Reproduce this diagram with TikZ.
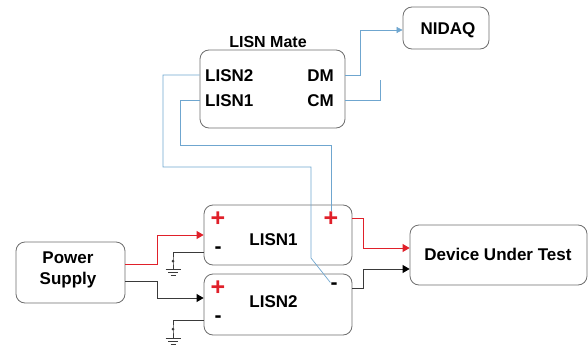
\documentclass[tikz,border=0pt]{standalone}
\usepackage{fontspec}
\setmainfont{Liberation Sans}
\usetikzlibrary{arrows.meta}
\definecolor{wireblue}{HTML}{6FA6CF}
\definecolor{wirered}{HTML}{E0202A}
\definecolor{edgegray}{HTML}{6E6E6E}
\definecolor{wiregray}{HTML}{3A3A3A}
\tikzset{
  blockbox/.style={draw=edgegray, line width=0.8pt, rounded corners=9pt, fill=white, inner sep=0pt},
  lbl/.style={font=\bfseries\fontsize{17}{19}\selectfont, inner sep=0pt},
  plusmark/.style={font=\bfseries\fontsize{25}{25}\selectfont, text=wirered, inner sep=0pt},
  minusmark/.style={font=\bfseries\fontsize{21}{21}\selectfont, inner sep=0pt},
  bluewire/.style={draw=wireblue, line width=0.7pt},
  redwire/.style={draw=wirered, line width=0.8pt},
  graywire/.style={draw=wiregray, line width=0.8pt},
  redtip/.style={-{Triangle[length=7pt,width=8pt,color=wirered,fill=wirered]}},
  blacktip/.style={-{Triangle[length=7pt,width=8pt,color=black,fill=black]}},
  bluetip/.style={-{Triangle[length=6pt,width=6pt,color=wireblue,fill=wireblue]}},
  gndwire/.style={draw=wiregray, line width=0.6pt},
}
\begin{document}
\begin{tikzpicture}[x=1pt,y=-1pt]
\useasboundingbox (0,0) rectangle (588,345);

% blocks
\node[blockbox, minimum width=145pt, minimum height=78pt] (mate) at (272.5,89) {};
\node[lbl, font=\bfseries\fontsize{16}{18}\selectfont] (matet) at (268,42) {LISN Mate};
\node[lbl, anchor=west] (m2) at (205,76) {LISN2};
\node[lbl, anchor=west] (m1) at (205,101) {LISN1};
\node[lbl, anchor=east] (mdm) at (334,76) {DM};
\node[lbl, anchor=east] (mcm) at (334,101) {CM};

\node[blockbox, minimum width=86pt, minimum height=42pt] (nidaq) at (446,28) {};
\node[lbl] (nidaqt) at (448,30) {NIDAQ};

\node[blockbox, minimum width=109pt, minimum height=61pt] (ps) at (70.5,272.5) {};
\node[lbl, align=center] (pst) at (68,270) {Power\\[2pt]Supply};

\node[blockbox, minimum width=148pt, minimum height=60pt] (l1) at (278,235) {};
\node[lbl] (l1t) at (273.5,240) {LISN1};
\node[blockbox, minimum width=148pt, minimum height=61pt] (l2) at (278,304.5) {};
\node[lbl] (l2t) at (273.5,302) {LISN2};

\node[blockbox, minimum width=177pt, minimum height=60pt] (dut) at (498.5,255) {};
\node[lbl] (dutt) at (498,254) {Device Under Test};

% polarity marks
\node[plusmark] (l1pin) at (218,219) {+};
\node[minusmark] (l1min) at (218,250) {-};
\node[plusmark] (l2pin) at (218,288) {+};
\node[minusmark] (l2min) at (218,319) {-};
\node[plusmark] (l1pout) at (331,219) {+};
\node[minusmark] (l2mout) at (334,286) {-};

% supply to LISNs
\coordinate (psr) at (157,264);
\coordinate (psru) at (157,235);
\draw[redwire, redtip]
  (ps.east |- psr) -- (psr) -- (psru) -- (l1.west |- psru);
\draw[graywire, blacktip]
  (ps.east |- 0,281) -| (157,298) -- (l2.west |- 0,298);

% LISNs to device
\draw[redwire, redtip]
  (l1.east |- 0,218) -| (363,248) -- (dut.west |- 0,248);
\draw[graywire, blacktip]
  (l2.east |- 0,288) -| (363,269) -- (dut.west |- 0,269);

% grounds of the minus inputs
\coordinate (g1) at (173,261);
\coordinate (g2) at (173,329);
\draw[gndwire] (l1.west |- 0,252) -| (g1) -- (173,269);
\draw[gndwire] (l2.west |- 0,320) -| (g2) -- (173,338);
\fill[wiregray] (g1) circle (1.5pt);
\fill[wiregray] (g2) circle (1.5pt);
\foreach \gy in {269,338}{
  \draw[gndwire] (165.5,\gy) -- (180.5,\gy);
  \draw[gndwire] (168,\gy+3) -- (178,\gy+3);
  \draw[gndwire] (170.5,\gy+6) -- (175.5,\gy+6);
}

% LISN Mate sense lines
\draw[bluewire] (mate.west |- 0,75) -| (163,167) -| (311,258) -- (l2mout.north west);
\draw[bluewire] (mate.west |- 0,100) -| (180,145) -| (l1pout.north);
\draw[bluewire, bluetip]
  (mate.east |- 0,75) -| (360,30) -- (nidaq.west |- 0,30);
\coordinate (cmend) at (380,80);
\draw[bluewire] (mate.east |- 0,100) -| (cmend);
\end{tikzpicture}
\end{document}
